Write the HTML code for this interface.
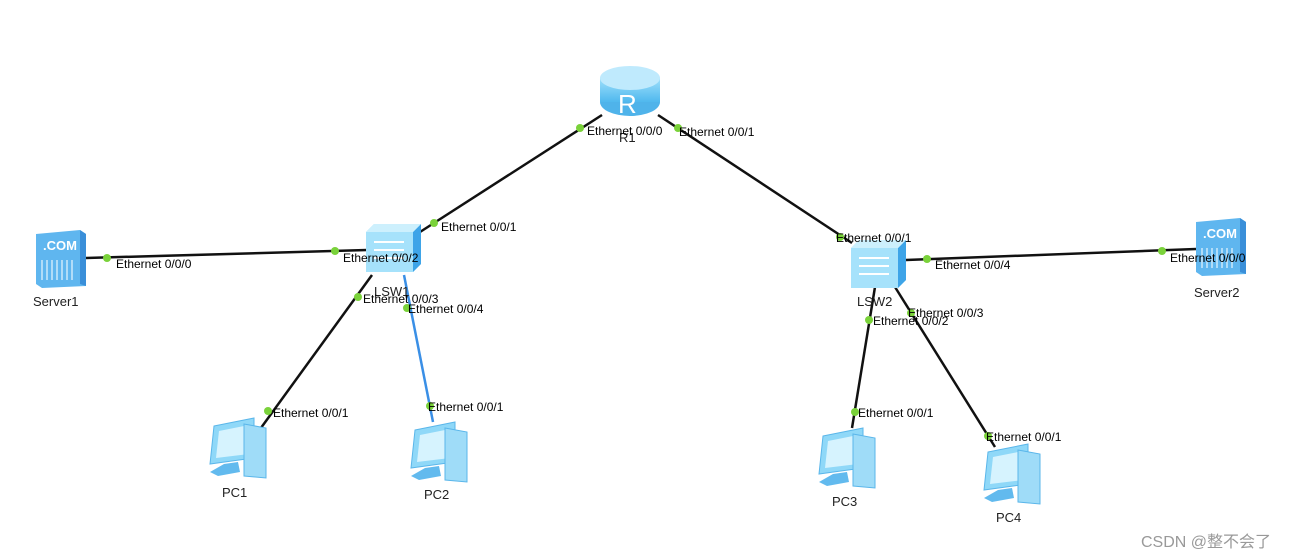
<!DOCTYPE html>
<html><head><meta charset="utf-8"><style>
html,body{margin:0;padding:0;background:#fff;}
svg{display:block;}
text{font-family:"Liberation Sans",Arial,sans-serif;font-size:12px;fill:#000;}
.lb{font-size:13px;fill:#222;}
</style></head><body>
<svg width="1290" height="559" viewBox="0 0 1290 559" xmlns="http://www.w3.org/2000/svg">
<defs>
<linearGradient id="rg" x1="0" y1="0" x2="0" y2="1"><stop offset="0" stop-color="#9fe0fb"/><stop offset="1" stop-color="#4fb8ee"/></linearGradient>
<g id="pc">
  <polygon points="10,8 50,0 50,40 6,46" fill="#8fd8f8" stroke="#5ab6ea" stroke-width="1"/>
  <polygon points="15,13 45,7 45,36 12,40" fill="#d6f3fe"/>
  <polygon points="40,6 62,10 62,60 40,58" fill="#9fdcf8" stroke="#5ab6ea"/>
  <polygon points="20,46 34,44 36,54 14,58 6,54" fill="#62baee"/>
</g>
<g id="sw">
  <polygon points="0,8 8,0 55,0 55,40 47,48 0,48" fill="#a6e2fb"/>
  <polygon points="47,8 55,0 55,40 47,48" fill="#3ea4e8"/>
  <polygon points="0,8 8,0 55,0 47,8" fill="#cdf0fd"/>
  <path d="M8,18 H38 M8,26 H38 M8,34 H38" stroke="#fff" stroke-width="2"/>
</g>
<g id="srv">
  <polygon points="0,4 44,0 50,4 50,56 6,58 0,54" fill="#5fb6ef"/>
  <polygon points="44,0 50,4 50,56 44,54" fill="#3a8fd9"/>
  <text x="7" y="20" style="font-size:13px;font-weight:bold;fill:#fff">.COM</text>
  <path d="M6,30 V50 M11,30 V50 M16,30 V50 M21,30 V50 M26,30 V50 M31,30 V50 M36,30 V50" stroke="#cbe9fc" stroke-width="1.5"/>
</g>
</defs>
<g stroke="#111" stroke-width="2.5" fill="none">
<line x1="602" y1="115" x2="420" y2="232"/>
<line x1="658" y1="115" x2="852" y2="243"/>
<line x1="86" y1="258" x2="367" y2="250"/>
<line x1="372" y1="275" x2="258" y2="432"/>
<line x1="906" y1="260" x2="1196" y2="249"/>
<line x1="875" y1="287" x2="852" y2="428"/>
<line x1="895" y1="287" x2="995" y2="447"/>
</g>
<line x1="404" y1="275" x2="433" y2="422" stroke="#3a8fe6" stroke-width="2.5"/>
<g>
<ellipse cx="630" cy="102" rx="30" ry="14" fill="#4fb3ea"/>
<rect x="600" y="78" width="60" height="24" fill="url(#rg)"/>
<ellipse cx="630" cy="78" rx="30" ry="12" fill="#bfeafd"/>
<text x="618" y="113" style="font-size:26px;fill:#fff">R</text>
</g>
<use href="#sw" x="366" y="224"/>
<use href="#sw" x="851" y="240"/>
<use href="#srv" x="36" y="230"/>
<use href="#srv" x="1196" y="218"/>
<use href="#pc" x="204" y="418"/>
<use href="#pc" x="405" y="422"/>
<use href="#pc" x="813" y="428"/>
<use href="#pc" x="978" y="444"/>
<g fill="#7ad23a">
<circle cx="580" cy="128" r="4"/><circle cx="678" cy="128" r="4"/>
<circle cx="434" cy="223" r="4"/><circle cx="107" cy="258" r="4"/>
<circle cx="335" cy="251" r="4"/><circle cx="358" cy="297" r="4"/>
<circle cx="407" cy="308" r="4"/><circle cx="268" cy="411" r="4"/>
<circle cx="430" cy="406" r="4"/><circle cx="840" cy="237" r="4"/>
<circle cx="927" cy="259" r="4"/><circle cx="1162" cy="251" r="4"/>
<circle cx="869" cy="320" r="4"/><circle cx="911" cy="313" r="4"/>
<circle cx="855" cy="412" r="4"/><circle cx="988" cy="436" r="4"/>
</g>
<text class="lb" x="619" y="142">R1</text>
<text class="lb" x="374" y="296">LSW1</text>
<text class="lb" x="857" y="306">LSW2</text>
<text class="lb" x="33" y="306">Server1</text>
<text class="lb" x="1194" y="297">Server2</text>
<text class="lb" x="222" y="497">PC1</text>
<text class="lb" x="424" y="499">PC2</text>
<text class="lb" x="832" y="506">PC3</text>
<text class="lb" x="996" y="522">PC4</text>
<text x="587" y="135">Ethernet 0/0/0</text>
<text x="679" y="136">Ethernet 0/0/1</text>
<text x="441" y="231">Ethernet 0/0/1</text>
<text x="116" y="268">Ethernet 0/0/0</text>
<text x="343" y="262">Ethernet 0/0/2</text>
<text x="363" y="303">Ethernet 0/0/3</text>
<text x="408" y="313">Ethernet 0/0/4</text>
<text x="273" y="417">Ethernet 0/0/1</text>
<text x="428" y="411">Ethernet 0/0/1</text>
<text x="836" y="242">Ethernet 0/0/1</text>
<text x="935" y="269">Ethernet 0/0/4</text>
<text x="1170" y="262">Ethernet 0/0/0</text>
<text x="873" y="325">Ethernet 0/0/2</text>
<text x="908" y="317">Ethernet 0/0/3</text>
<text x="858" y="417">Ethernet 0/0/1</text>
<text x="986" y="441">Ethernet 0/0/1</text>
<text x="1141" y="547" style="font-family:'Liberation Sans','Noto Sans CJK SC',sans-serif;font-size:16px;fill:#999">CSDN @整不会了</text>
</svg>
</body></html>
